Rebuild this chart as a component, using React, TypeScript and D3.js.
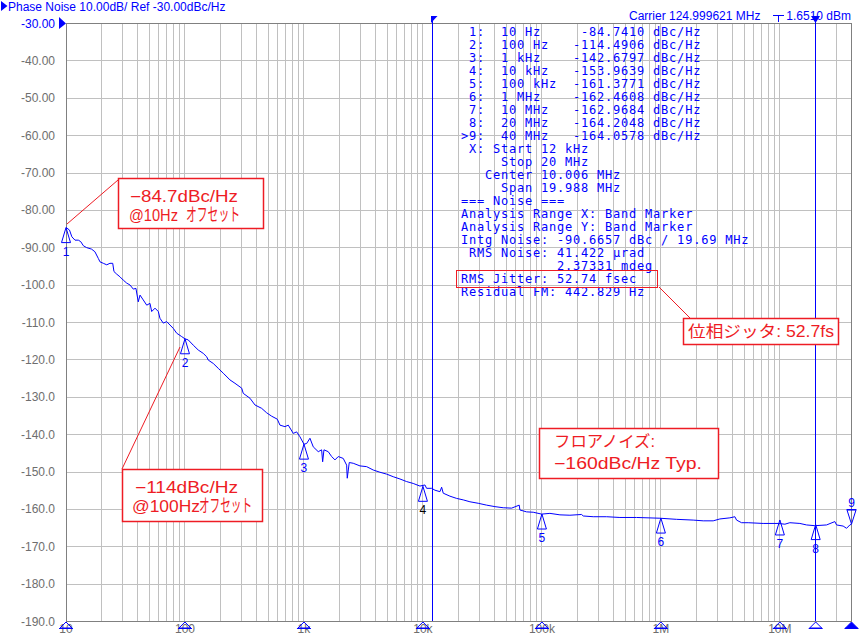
import React from 'react';
import * as d3 from 'd3';

const WIDTH = 860;
const HEIGHT = 635;

const yTickValues = [-30, -40, -50, -60, -70, -80, -90, -100, -110, -120, -130, -140, -150, -160, -170, -180, -190];
const yTickLabels = ['-30.00', '-40.00', '-50.00', '-60.00', '-70.00', '-80.00', '-90.00', '-100.0', '-110.0', '-120.0', '-130.0', '-140.0', '-150.0', '-160.0', '-170.0', '-180.0', '-190.0'];
const xDecadeValues = [10, 100, 1e3, 1e4, 1e5, 1e6, 1e7];
const xDecadeLabels = ['10', '100', '1k', '10k', '100k', '1M', '10M'];

// [offset frequency Hz, phase noise dBc/Hz]
const tracePoints: [number, number][] = [
  [10, -84.7], [10.7, -85.4], [11.2, -87.2], [11.9, -88.1], [12.7, -88.1], [13.3, -88.5], [14.0, -89.6], [14.9, -90.1], [16.4, -90.5], [17.5, -91.2],
  [18.7, -93.0], [19.3, -93.9], [20.6, -94.3], [22.0, -94.7], [23.4, -94.3], [24.7, -94.3], [25.3, -96.5], [26.7, -97.2], [28.4, -97.9], [30.3, -98.8],
  [32.4, -99.6], [34.5, -100.1], [36.8, -101.2], [38.7, -101.0], [40.5, -104.6], [41.9, -102.8], [44.6, -104.1], [47.7, -105.5], [50.8, -105.0], [52.5, -107.2],
  [56.0, -106.3], [59.7, -107.2], [61.6, -109.0], [65.7, -110.3], [70.2, -109.9], [74.8, -110.8], [79.7, -111.7], [85.2, -113.0], [93.8, -113.9], [100, -114.5],
  [106.6, -114.8], [117.4, -116.2], [129.3, -117.5], [142.5, -118.4], [152.2, -119.3], [157, -120.2], [173, -121.1], [190.5, -122.4], [209.8, -123.7], [238.9, -125.5],
  [263.2, -126.4], [299.6, -127.7], [309, -129.1], [351.8, -130.4], [387.5, -132.2], [441, -133.1], [486, -134.3], [535, -135.2], [597, -136.0], [628.6, -137.6],
  [692, -138.0], [738, -137.6], [813, -139.8], [868, -139.4], [925, -140.7], [1000, -142.7], [1054, -142.5], [1123, -141.1], [1197, -143.4], [1319, -144.7],
  [1408, -144.2], [1436, -147.4], [1473, -144.2], [1600, -144.7], [1709, -146.0], [1822, -146.9], [1942, -146.0], [2139, -146.5], [2285, -148.3], [2312, -151.8],
  [2403, -147.6], [2596, -147.8], [2956, -148.5], [3365, -148.7], [3822, -149.6], [4352, -150.2], [4955, -150.7], [5630, -151.4], [6410, -152.0], [7295, -152.7],
  [8286, -153.2], [9437, -153.9], [10390, -153.6], [10740, -154.5], [11840, -154.5], [12620, -155.0], [13900, -155.4], [14360, -154.2], [14810, -155.8], [16860, -156.6],
  [19200, -157.2], [21820, -157.6], [24830, -158.1], [29160, -158.5], [34300, -159.0], [40270, -159.4], [47300, -159.7], [55650, -159.8], [64460, -159.0], [65330, -160.3],
  [74350, -160.8], [84530, -160.9], [99430, -161.4], [116800, -161.2], [141700, -161.6], [171900, -161.7], [215600, -161.5], [222400, -161.9], [269900, -162.1], [349800, -162.1],
  [452400, -162.3], [625000, -162.3], [980900, -162.5], [1.355e6, -162.8], [1.868e6, -163.0], [2.268e6, -163.2], [2.751e6, -163.2], [3.132e6, -162.7], [3.80e6, -162.4], [4.187e6, -162.1],
  [4.326e6, -163.0], [4.766e6, -163.7], [5.415e6, -163.7], [7.238e6, -163.9], [9.676e6, -163.9], [1.102e7, -164.1], [1.213e7, -163.7], [1.473e7, -163.9], [1.676e7, -164.3], [1.968e7, -164.5],
  [2.469e7, -164.3], [2.899e7, -163.4], [2.996e7, -164.3], [3.403e7, -164.6], [3.636e7, -165.2], [3.875e7, -164.3], [4e7, -164.1],
];

const markerNames = ['1', '2', '3', '4', '5', '6', '7', '8', '9'];
const markerFreqs = [10, 100, 1e3, 1e4, 1e5, 1e6, 1e7, 2e7, 4e7];
const markerFreqLabels = ['10 Hz', '100 Hz', '1 kHz', '10 kHz', '100 kHz', '1 MHz', '10 MHz', '20 MHz', '40 MHz'];
const markerValues = [-84.741, -114.4906, -142.6797, -153.9639, -161.3771, -162.4608, -162.9684, -164.2048, -164.0578];

const bandMarkers = [12e3, 20e6];

const infoLines = [
  ' X: Start 12 kHz',
  '     Stop 20 MHz',
  '   Center 10.006 MHz',
  '     Span 19.988 MHz',
  '=== Noise ===',
  'Analysis Range X: Band Marker',
  'Analysis Range Y: Band Marker',
  'Intg Noise: -90.6657 dBc / 19.69 MHz',
  ' RMS Noise: 41.422 \u00b5rad',
  '            2.37331 mdeg',
  'RMS Jitter: 52.74 fsec',
  'Residual FM: 442.829 Hz',
];

const titleText = 'Phase Noise 10.00dB/ Ref -30.00dBc/Hz';
const carrierText = 'Carrier 124.999621 MHz';
const powerText = '1.6510 dBm';

const BLUE = '#0000ff';
const RED = '#ee1c24';
const GRID = '#c0c0c0';
const AXIS = '#808080';
const SANS = '"Liberation Sans", Arial, sans-serif';
const JP = '"Liberation Sans", "Noto Sans CJK JP", sans-serif';
const MONO = '"DejaVu Sans Mono", monospace';

type Seg = { t: string; x: number; y: number; w: number; fs?: number };
const RedText = ({ s }: { s: Seg }) => (
  <text x={s.x} y={s.y} fontFamily={JP} fontSize={s.fs || 16} fill={RED} textLength={s.w} lengthAdjust="spacingAndGlyphs">{s.t}</text>
);

export default function App() {
  const left = 66, right = 851.5, top = 23, bottom = 621;
  const x = d3.scaleLog().domain([10, 4e7]).range([left, right]);
  const y = d3.scaleLinear().domain([-190, -30]).range([bottom, top]);
  const cx = (v: number) => Math.floor(x(v)) + 0.5;
  const cy = (v: number) => Math.round(y(v)) + 0.5;

  const line = d3.line<[number, number]>().x(d => x(d[0])).y(d => y(d[1]));
  const gridX = x.ticks().filter(t => t > 10 && t < 4e7);

  const tableLines = markerNames.map((n, i) => {
    const prefix = i === markerNames.length - 1 ? '>' : ' ';
    return `${prefix}${n}:  ${markerFreqLabels[i].padEnd(9)}${markerValues[i].toFixed(4).padStart(9)} dBc/Hz`;
  });
  const allLines = [...tableLines, ...infoLines];

  const redSegs: Seg[] = [
    { t: '\u221284.7dBc/Hz', x: 130, y: 202, w: 108 },
    { t: '@10Hz', x: 129, y: 221, w: 49 },
    { t: 'オフセット', x: 186, y: 221, w: 54, fs: 18 },
    { t: '\u2212114dBc/Hz', x: 135, y: 493, w: 103 },
    { t: '@100Hz', x: 132, y: 512, w: 68 },
    { t: 'オフセット', x: 199, y: 512, w: 53, fs: 18 },
    { t: 'フロアノイズ:', x: 554, y: 447, w: 101 },
    { t: '\u2212160dBc/Hz Typ.', x: 554, y: 469, w: 148 },
    { t: '位相ジッタ: 52.7fs', x: 688, y: 337, w: 146 },
  ];

  return (
    <svg width={WIDTH} height={HEIGHT} style={{ position: 'absolute', left: 0, top: 0, background: '#fff' }}>
      <rect x={0} y={0} width={WIDTH} height={HEIGHT} fill="#fff" />
      {gridX.map((t, i) => (
        <line key={'gx' + i} x1={cx(t)} x2={cx(t)} y1={top} y2={bottom} stroke={GRID} strokeWidth={1} />
      ))}
      {yTickValues.slice(1, -1).map((v, i) => (
        <line key={'gy' + i} x1={left} x2={right} y1={cy(v)} y2={cy(v)} stroke={GRID} strokeWidth={1} />
      ))}
      <rect x={left + 0.5} y={top + 0.5} width={785} height={bottom - top} fill="none" stroke={AXIS} strokeWidth={1} />

      {yTickValues.map((v, i) => (
        <text key={'yl' + i} x={55} y={y(v) + 4.5} textAnchor="end" fontFamily={SANS} fontSize={12}
          fill={i === 0 ? BLUE : '#6e6e6e'}>{yTickLabels[i]}</text>
      ))}
      {xDecadeValues.map((v, i) => (
        <text key={'xl' + i} x={x(v)} y={633} textAnchor="middle" fontFamily={SANS} fontSize={12} fill="#6e6e6e">{xDecadeLabels[i]}</text>
      ))}

      <path d="M1,1 L7.5,6 L1,11 Z" fill={BLUE} />
      <text x={8} y={11} fontFamily={SANS} fontSize={12} fill={BLUE}>{titleText}</text>
      <text x={629} y={20} fontFamily={SANS} fontSize={12} fill={BLUE}>{carrierText}</text>
      <line x1={773} x2={784} y1={15.5} y2={15.5} stroke={BLUE} />
      <line x1={778.5} x2={778.5} y1={15.5} y2={22} stroke={BLUE} />
      <text x={851} y={20} textAnchor="end" fontFamily={SANS} fontSize={12} fill={BLUE}>{powerText}</text>
      <path d={`M${left - 7},${y(-30) - 6} L${left},${y(-30) + 0.5} L${left - 7},${y(-30) + 6} Z`} fill={BLUE} />

      {bandMarkers.map((f, i) => (
        <line key={'bm' + i} x1={cx(f)} x2={cx(f)} y1={16} y2={bottom} stroke={BLUE} strokeWidth={1} />
      ))}
      <path d={`M${cx(bandMarkers[0]) - 1.5},16 L${cx(bandMarkers[0]) + 5},16 L${cx(bandMarkers[0]) - 1.5},23 Z`} fill={BLUE} />
      <path d={`M${cx(bandMarkers[1]) - 4.5},16 L${cx(bandMarkers[1]) + 4.5},16 L${cx(bandMarkers[1])},23 Z`} fill={BLUE} />

      {allLines.map((s, i) => (
        <text key={'tl' + i} x={461} y={31 + 13 * i + 4.5} fontFamily={MONO} fontSize={12} letterSpacing={0.78}
          fill={BLUE} xmlSpace="preserve" style={{ whiteSpace: 'pre' }}>{s}</text>
      ))}

      <path d={line(tracePoints) || ''} fill="none" stroke={BLUE} strokeWidth={1} />

      {markerFreqs.map((f, i) => {
        const mx = x(f);
        const my = y(markerValues[i]);
        if (i === markerFreqs.length - 1) {
          return (
            <g key={'mk' + i}>
              <path d={`M${mx - 4.5},${my - 14} L${mx + 4.5},${my - 14} L${mx},${my} Z`} fill="none" stroke={BLUE} />
              <line x1={mx - 5} x2={mx + 5} y1={my - 14.5} y2={my - 14.5} stroke={BLUE} />
              <text x={mx} y={my - 17} textAnchor="middle" fontFamily={SANS} fontSize={12} fill={BLUE}>{markerNames[i]}</text>
            </g>
          );
        }
        return (
          <g key={'mk' + i}>
            <path d={`M${mx},${my} L${mx + 4.5},${my + 15} L${mx - 4.5},${my + 15} Z`} fill="none" stroke={BLUE} />
            <text x={mx} y={my + 28} textAnchor="middle" fontFamily={SANS} fontSize={12} fill={i === 3 ? '#000' : BLUE}>{markerNames[i]}</text>
          </g>
        );
      })}

      {markerFreqs.map((f, i) => {
        const mx = x(f);
        const last = i === markerFreqs.length - 1;
        return (
          <g key={'bx' + i}>
            <path d={`M${mx},622 L${mx + 6},628 L${mx - 6},628 Z`} fill={last ? BLUE : 'none'} stroke={BLUE} />
            <line x1={mx - 7} x2={mx + 7} y1={628.5} y2={628.5} stroke={BLUE} />
          </g>
        );
      })}

      <line x1={67} y1={224} x2={118} y2={180} stroke={RED} strokeWidth={1} />
      <rect x={118.5} y={178.5} width={145} height={50} fill="#fff" stroke={RED} strokeWidth={1.5} />
      <line x1={122} y1={469} x2={180} y2={347} stroke={RED} strokeWidth={1} />
      <rect x={122.5} y={469.5} width={140} height={52} fill="#fff" stroke={RED} strokeWidth={1.5} />
      <rect x={539.5} y={428.5} width={179} height={50} fill="#fff" stroke={RED} strokeWidth={1.5} />
      <rect x={456.5} y={270.5} width={201} height={17} fill="none" stroke={RED} strokeWidth={1} />
      <line x1={659} y1={287} x2={690} y2={318} stroke={RED} strokeWidth={1} />
      <rect x={683.5} y={318.5} width={155} height={26} fill="#fff" stroke={RED} strokeWidth={1.5} />
      {redSegs.map((s, i) => <RedText key={'rs' + i} s={s} />)}
    </svg>
  );
}
